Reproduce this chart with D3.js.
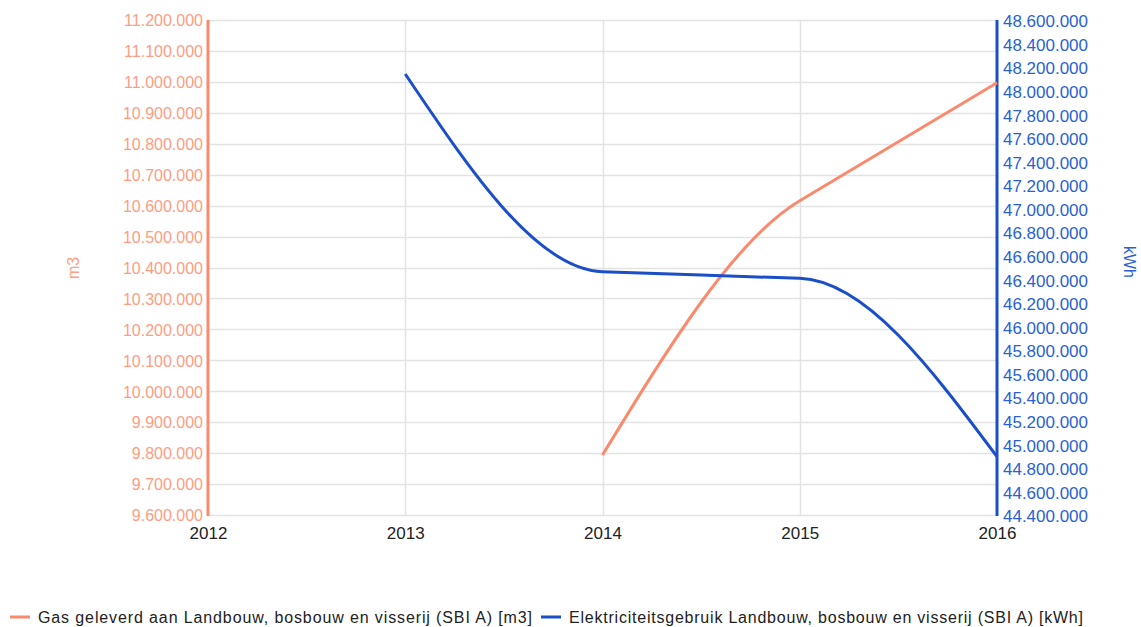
<!DOCTYPE html>
<html><head><meta charset="utf-8">
<script src="https://cdn.jsdelivr.net/npm/d3@7"></script>
<style>body{margin:0;background:#fff}svg{display:block;font-family:Arial,"Liberation Sans",sans-serif}</style>
</head><body><svg id="c" width="1141" height="627"></svg>
<script>
const years = [2012, 2013, 2014, 2015, 2016];
const gasValues = [null, null, 9794000, 10616000, 10997000];
const elecValues = [null, 48142000, 46464000, 46408000, 44895000];
const leftTicks = d3.range(9600000, 11200001, 100000);
const rightTicks = d3.range(44400000, 48600001, 200000);
const gasName = "Gas geleverd aan Landbouw, bosbouw en visserij (SBI A) [m3]";
const elecName = "Elektriciteitsgebruik Landbouw, bosbouw en visserij (SBI A) [kWh]";

const gasColor = "#fa8a6e", gasText = "#ff9c82";
const elecColor = "#1a4fc8", elecText = "#2a5fd6";

const svg = d3.select("#c");
const L = 208, R = 997, T = 20, B = 515;
const x = d3.scaleLinear().domain([2012, 2016]).range([L, R]);
const yL = d3.scaleLinear().domain([9600000, 11200000]).range([B, T]);
const yR = d3.scaleLinear().domain([44400000, 48600000]).range([B, T]);
const nl = d3.formatLocale({decimal: ",", thousands: ".", grouping: [3], currency: ["€", ""]});
const fmt = nl.format(",.0f");

// smooth curve: interior tangent = smaller adjacent secant (0 at extremum), end tangents like monotone
function smoothPath(pts) {
  const n = pts.length;
  if (n < 2) return "";
  const s = [];
  for (let i = 0; i < n - 1; i++) s.push((pts[i + 1][1] - pts[i][1]) / (pts[i + 1][0] - pts[i][0]));
  const m = new Array(n);
  for (let i = 1; i < n - 1; i++) {
    m[i] = (s[i - 1] * s[i] <= 0) ? 0 : Math.sign(s[i]) * Math.min(Math.abs(s[i - 1]), Math.abs(s[i]));
  }
  if (n === 2) { m[0] = s[0]; m[1] = s[0]; }
  else {
    m[0] = (3 * s[0] - m[1]) / 2;
    m[n - 1] = (3 * s[n - 2] - m[n - 2]) / 2;
  }
  const p = d3.path();
  p.moveTo(pts[0][0], pts[0][1]);
  for (let i = 0; i < n - 1; i++) {
    const h = (pts[i + 1][0] - pts[i][0]) / 3;
    p.bezierCurveTo(pts[i][0] + h, pts[i][1] + m[i] * h,
                    pts[i + 1][0] - h, pts[i + 1][1] - m[i + 1] * h,
                    pts[i + 1][0], pts[i + 1][1]);
  }
  return p.toString();
}

// grid
const g = svg.append("g");
g.selectAll("line.h").data(leftTicks).join("line")
  .attr("x1", L).attr("x2", R).attr("y1", d => Math.round(yL(d)) + 0.5).attr("y2", d => Math.round(yL(d)) + 0.5)
  .attr("stroke", "#e3e3e3").attr("stroke-width", 1.5);
g.selectAll("line.v").data(years.slice(1, -1)).join("line")
  .attr("x1", d => Math.round(x(d)) + 0.5).attr("x2", d => Math.round(x(d)) + 0.5).attr("y1", T).attr("y2", B)
  .attr("stroke", "#e3e3e3").attr("stroke-width", 1.5);

// left axis
const ax = d3.axisLeft(yL).tickValues(leftTicks).tickFormat(fmt).tickSize(0).tickPadding(5);
const gl = svg.append("g").attr("transform", `translate(${L},0)`).call(ax);
gl.select(".domain").remove();
gl.selectAll("text").attr("fill", gasText).attr("font-size", 16).attr("dy", "0.36em");
svg.append("line").attr("x1", L).attr("x2", L).attr("y1", T).attr("y2", B + 1).attr("stroke", gasColor).attr("stroke-width", 3);

// right axis
const axR = d3.axisRight(yR).tickValues(rightTicks).tickFormat(fmt).tickSize(0).tickPadding(6);
const gr = svg.append("g").attr("transform", `translate(${R},0)`).call(axR);
gr.select(".domain").remove();
gr.selectAll("text").attr("fill", elecText).attr("font-size", 16).attr("dy", "0.42em")
  .attr("textLength", 85).attr("lengthAdjust", "spacingAndGlyphs");
svg.append("line").attr("x1", R).attr("x2", R).attr("y1", T).attr("y2", B + 1).attr("stroke", elecColor).attr("stroke-width", 3);

// bottom axis
const axB = d3.axisBottom(x).tickValues(years).tickFormat(d3.format("d")).tickSize(0).tickPadding(12);
const gb = svg.append("g").attr("transform", `translate(0,${B})`).call(axB);
gb.select(".domain").remove();
gb.selectAll("text").attr("fill", "#222").attr("font-size", 17);

// axis titles
svg.append("text").attr("transform", "translate(79,268) rotate(-90)").attr("text-anchor", "middle")
  .attr("fill", gasText).attr("font-size", 16).text("m3");
svg.append("text").attr("transform", "translate(1124,262) rotate(90)").attr("text-anchor", "middle")
  .attr("fill", elecText).attr("font-size", 16).text("kWh");

// lines
const gasPts = years.map((y, i) => gasValues[i] == null ? null : [x(y), yL(gasValues[i])]).filter(d => d);
const elecPts = years.map((y, i) => elecValues[i] == null ? null : [x(y), yR(elecValues[i])]).filter(d => d);
svg.append("path").attr("d", smoothPath(gasPts))
  .attr("fill", "none").attr("stroke", gasColor).attr("stroke-width", 3);
svg.append("path").attr("d", smoothPath(elecPts))
  .attr("fill", "none").attr("stroke", elecColor).attr("stroke-width", 3);

// legend
const leg = [
  {name: gasName, color: gasColor, x0: 10, tx: 38, w: 494},
  {name: elecName, color: elecColor, x0: 541, tx: 569, w: 514}
];
const lg = svg.append("g");
leg.forEach(d => {
  lg.append("line").attr("x1", d.x0).attr("x2", d.x0 + 20).attr("y1", 617).attr("y2", 617)
    .attr("stroke", d.color).attr("stroke-width", 3);
  lg.append("text").attr("x", d.tx).attr("y", 623).attr("font-size", 16).attr("fill", "#222")
    .attr("textLength", d.w).attr("lengthAdjust", "spacing").text(d.name);
});
</script></body></html>
